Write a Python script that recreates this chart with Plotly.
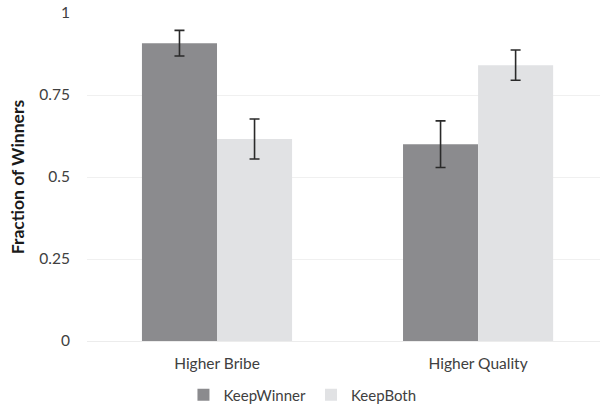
import plotly.graph_objects as go

# Data
categories = ["Higher Bribe", "Higher Quality"]
series_names = ["KeepWinner", "KeepBoth"]
keep_winner = [0.908, 0.600]
keep_winner_err = [0.039, 0.071]
keep_both = [0.616, 0.841]
keep_both_err = [0.061, 0.046]
y_ticks = [0, 0.25, 0.5, 0.75, 1]
y_tick_labels = ["0", "0.25", "0.5", "0.75", "1"]

colors = ["#8b8b8e", "#e1e2e4"]
font_family = "Lato, Carlito, 'Open Sans', sans-serif"

fig = go.Figure()
for name, vals, errs, col in [
    (series_names[0], keep_winner, keep_winner_err, colors[0]),
    (series_names[1], keep_both, keep_both_err, colors[1]),
]:
    fig.add_trace(go.Bar(
        x=categories, y=vals, name=name,
        marker=dict(color=col, line=dict(width=0)),
        error_y=dict(type="data", array=errs, visible=True,
                     color="#2a2a2a", thickness=1.6, width=5),
    ))

fig.update_layout(
    width=600, height=404,
    margin=dict(l=87, r=0, t=13, b=63, autoexpand=False),
    paper_bgcolor="white", plot_bgcolor="white",
    barmode="group", bargap=0.425, bargroupgap=0,
    font=dict(family=font_family, size=15, color="#404040"),
    showlegend=True,
    legend=dict(orientation="h", x=0.42, xanchor="center",
                y=-0.165, yanchor="middle",
                font=dict(size=15, color="#404040"),
                itemwidth=30, traceorder="normal"),
    xaxis=dict(range=[-0.498, 1.467], showgrid=False, showline=False,
               zeroline=False, ticks="", ticklabelstandoff=11,
               tickfont=dict(size=15.5, color="#404040")),
    yaxis=dict(range=[0, 1], tickvals=y_ticks, ticktext=y_tick_labels,
               showgrid=True, gridcolor="#f0f0f0", gridwidth=1,
               zeroline=True, zerolinecolor="#ececec", zerolinewidth=1,
               showline=False, ticks="", ticklabelstandoff=16,
               tickfont=dict(size=15.5, color="#404040"),
               title=dict(text="<b>Fraction of Winners</b>", standoff=10,
                          font=dict(size=17.5, color="#1a1a1a"))),
)

fig.write_html("out.html")
